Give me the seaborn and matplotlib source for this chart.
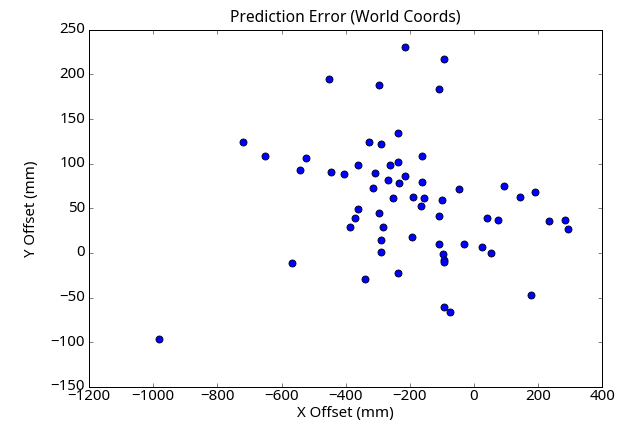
import numpy as np
import pandas as pd
import matplotlib
matplotlib.use("Agg")
import matplotlib.pyplot as plt
import seaborn as sns

# Prediction errors (mm)
x_offset = [-214, -94, -452, -296, -109, -237, -720, -328, -291, -653,
            -161, -524, -237, -262, -362, -543, -447, -405, -309, -214,
            -268, -233, -161, -46, 92, -314, 144, 189, -252, -189,
            -156, -99, -166, -362, -296, -371, -109, 40, 74, 235,
            284, 294, -386, -285, -194, -291, -109, -32, 25, -291,
            -98, 54, -94, -93, -566, -237, -341, 178, -94, -74,
            -982]
y_offset = [231, 217, 195, 188, 184, 134, 124, 124, 122, 109,
            109, 106, 102, 98, 98, 93, 91, 88, 90, 86,
            82, 78, 79, 72, 75, 73, 63, 68, 61, 63,
            61, 59, 53, 49, 45, 39, 41, 39, 37, 36,
            37, 27, 29, 29, 18, 14, 10, 10, 7, 1,
            -1, -0.5, -8, -10, -11, -22, -29, -47, -61, -66,
            -96]

df = pd.DataFrame({"x": x_offset, "y": y_offset})

plt.style.use("classic")
plt.rcParams["figure.facecolor"] = "white"
plt.rcParams["savefig.facecolor"] = "white"
plt.rcParams["font.family"] = ["Noto Sans", "DejaVu Sans"]

fig, ax = plt.subplots(figsize=(632 / 72, 426 / 72), dpi=72)
fig.subplots_adjust(left=0.141, right=0.953, top=0.93, bottom=0.092)

sns.scatterplot(data=df, x="x", y="y", ax=ax, color="blue",
                edgecolor="black", linewidth=0.8, s=50, zorder=3)

ax.set_xlim(-1200, 400)
ax.set_ylim(-150, 250)
ax.set_xticks(np.arange(-1200, 401, 200))
ax.set_yticks(np.arange(-150, 251, 50))
ax.set_title("Prediction Error (World Coords)", fontsize=15.6, pad=8)
ax.set_xlabel("X Offset (mm)", fontsize=15, labelpad=2)
ax.set_ylabel("Y Offset (mm)", fontsize=15, labelpad=12)
ax.tick_params(labelsize=15)
ax.tick_params(axis="x", pad=2)

fig.savefig("out.png", dpi=72)
